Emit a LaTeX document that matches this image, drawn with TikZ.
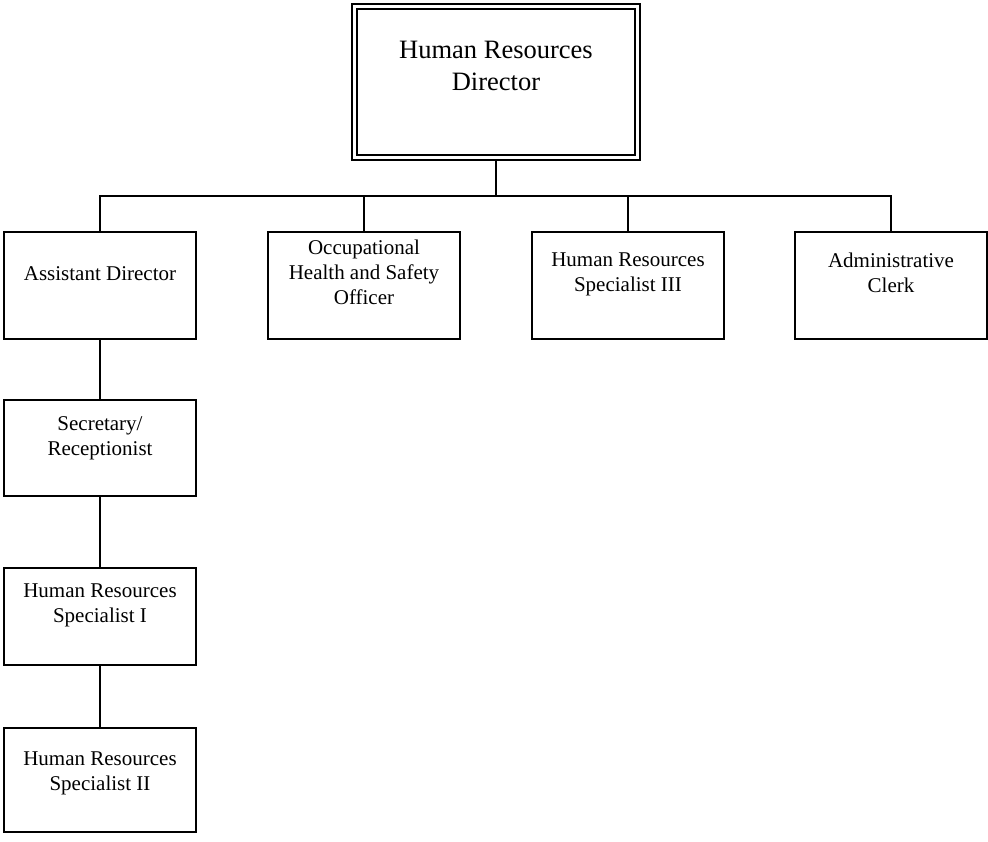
\documentclass[tikz,border=0pt]{standalone}
\usepackage{fontspec}
\setmainfont{Liberation Serif}
\begin{document}
\begin{tikzpicture}[x=1pt,y=-1pt,
  box/.style={draw=black, line width=1.6pt, anchor=north west, inner sep=0pt, outer sep=0pt, minimum width=192pt},
  lbl/.style={anchor=north, align=center, inner sep=0pt, font=\fontsize{21}{25}\selectfont},
  toplbl/.style={anchor=north, align=center, inner sep=0pt, font=\fontsize{26.5}{32}\selectfont},
  conn/.style={draw=black, line width=1.4pt}]
\useasboundingbox (0,0) rectangle (988,842);
% top box (double border)
\node[draw=black, line width=2.2pt, anchor=north west, inner sep=0pt, outer sep=0pt, minimum width=288pt, minimum height=156pt] (top) at (352,4) {};
\node[draw=black, line width=1.2pt, anchor=north west, inner sep=0pt, outer sep=0pt, minimum width=278pt, minimum height=146pt] (topin) at (357,9) {};
\node[toplbl] (toptxt) at (496,40.5) {Human Resources\\Director};
% second row
\node[box, minimum height=107pt] (b1) at (4,232) {};
\node[box, minimum height=107pt] (b2) at (268,232) {};
\node[box, minimum height=107pt] (b3) at (532,232) {};
\node[box, minimum height=107pt] (b4) at (795,232) {};
\node[lbl] (t1) at (100,266) {Assistant Director};
\node[lbl] (t2) at (364,240) {Occupational\\Health and Safety\\Officer};
\node[lbl] (t3) at (628,253) {Human Resources\\Specialist III};
\node[lbl] (t4) at (891,253) {Administrative\\Clerk};
% column
\node[box, minimum height=96pt] (sec) at (4,400) {};
\node[box, minimum height=97pt] (hr1) at (4,568) {};
\node[box, minimum height=104pt] (hr2) at (4,728) {};
\node[lbl] (tsec) at (100,416) {Secretary/\\Receptionist};
\node[lbl] (thr1) at (100,584) {Human Resources\\Specialist I};
\node[lbl] (thr2) at (100,752) {Human Resources\\Specialist II};
% connectors
\coordinate (bus) at (496,196);
\draw[conn] (top.south) -- (top.south |- bus);
\draw[conn] (b1.north) -- (b1.north |- bus) -- (b4.north |- bus) -- (b4.north);
\draw[conn] (b2.north) -- (b2.north |- bus);
\draw[conn] (b3.north) -- (b3.north |- bus);
\draw[conn] (b1.south) -- (sec.north);
\draw[conn] (sec.south) -- (hr1.north);
\draw[conn] (hr1.south) -- (hr2.north);
\end{tikzpicture}
\end{document}
